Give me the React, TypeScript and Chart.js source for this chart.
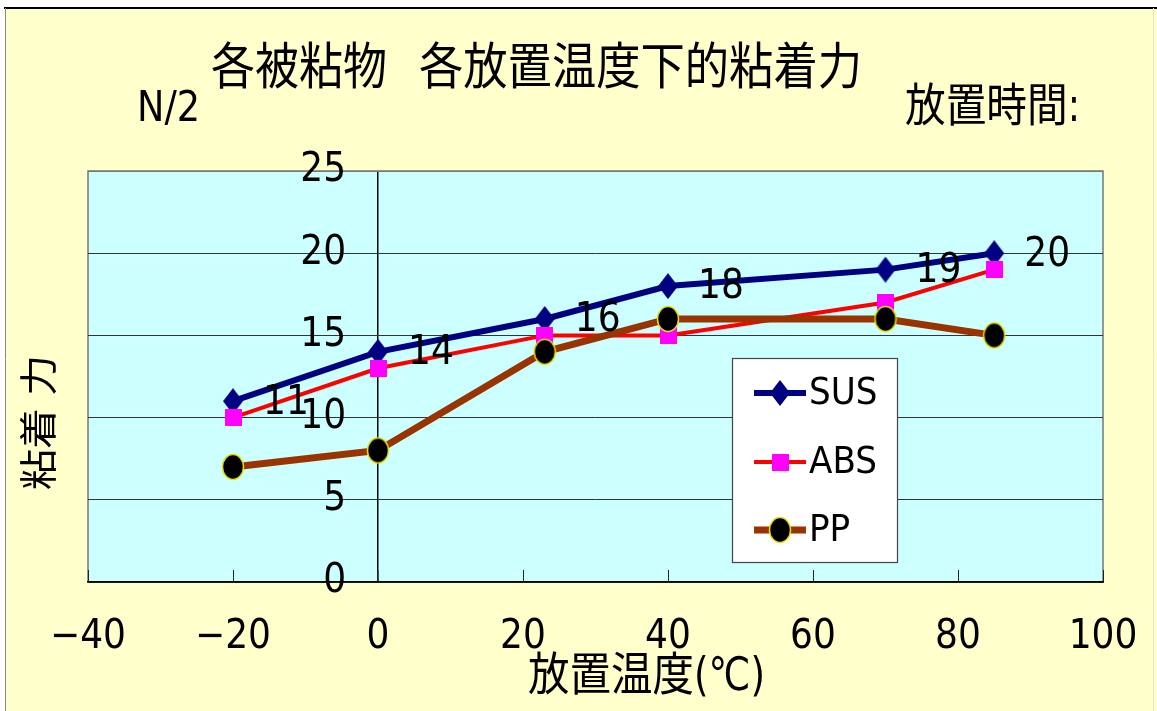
import { useEffect, useRef } from "react";
import { Chart, registerables } from "chart.js";

Chart.register(...registerables);

// ---- data ----
const TEMPS = [-20, 0, 23, 40, 70, 85];
const SUS = [11, 14, 16, 18, 19, 20];
const ABS = [10, 13, 15, 15, 17, 19];
const PP = [7, 8, 14, 16, 16, 15];
const SERIES_NAMES = ["SUS", "ABS", "PP"];
const X_TICKS = [-40, -20, 0, 20, 40, 60, 80, 100];
const Y_TICKS = [0, 5, 10, 15, 20, 25];
const TITLE_PARTS = ["各被粘物", "各放置温度下的粘着力"];
const UNIT_LABEL = "N/2";
const TIME_LABEL = "放置時間:";
const Y_TITLE = "粘着 力";
const X_TITLE = "放置温度(℃)";

const FONT =
  '"Liberation Sans Narrow", "DejaVu Sans Condensed", "Noto Sans CJK JP", sans-serif';

function makeMarker(w: number, h: number, draw: (c: CanvasRenderingContext2D, w: number, h: number) => void) {
  const c = document.createElement("canvas");
  c.width = w;
  c.height = h;
  const ctx = c.getContext("2d")!;
  draw(ctx, w, h);
  return c;
}

function drawFit(
  ctx: CanvasRenderingContext2D,
  text: string,
  x: number,
  y: number,
  size: number,
  width: number
) {
  ctx.save();
  ctx.font = `${size}px ${FONT}`;
  const w = ctx.measureText(text).width;
  ctx.translate(x, y);
  ctx.scale(width / w, 1);
  ctx.textAlign = "left";
  ctx.textBaseline = "middle";
  ctx.fillStyle = "#000";
  ctx.fillText(text, 0, 0);
  ctx.restore();
}

export default function App() {
  const ref = useRef<HTMLCanvasElement>(null);

  useEffect(() => {
    const diamond = makeMarker(20, 26, (c, w, h) => {
      c.fillStyle = "#000080";
      c.beginPath();
      c.moveTo(w / 2, 0);
      c.lineTo(w, h / 2);
      c.lineTo(w / 2, h);
      c.lineTo(0, h / 2);
      c.closePath();
      c.fill();
    });
    const square = makeMarker(17, 17, (c, w, h) => {
      c.fillStyle = "#FF00FF";
      c.fillRect(0, 0, w, h);
    });
    const ellipse = makeMarker(24, 28, (c, w, h) => {
      c.beginPath();
      c.ellipse(w / 2, h / 2, w / 2 - 1.5, h / 2 - 1.5, 0, 0, Math.PI * 2);
      c.fillStyle = "#000";
      c.fill();
      c.lineWidth = 1.5;
      c.strokeStyle = "#E8E000";
      c.stroke();
    });
    const markers = [diamond, square, ellipse];

    const background = {
      id: "background",
      beforeDraw(chart: any) {
        const { ctx, chartArea: a, width, height } = chart;
        ctx.save();
        ctx.fillStyle = "#FFFFFF";
        ctx.fillRect(0, 0, width, height);
        ctx.fillStyle = "#FFFFCC";
        ctx.fillRect(5, 8, width - 5, height - 8);
        ctx.strokeStyle = "#000";
        ctx.lineWidth = 2;
        ctx.beginPath();
        ctx.moveTo(4, 8);
        ctx.lineTo(width, 8);
        ctx.stroke();
        ctx.strokeStyle = "#888";
        ctx.lineWidth = 1;
        ctx.beginPath();
        ctx.moveTo(5.5, 8);
        ctx.lineTo(5.5, height);
        ctx.stroke();
        ctx.strokeStyle = "#E6E6C8";
        ctx.beginPath();
        ctx.moveTo(1153.5, 8);
        ctx.lineTo(1153.5, height);
        ctx.stroke();
        ctx.fillStyle = "#CCFFFF";
        ctx.fillRect(a.left, a.top, a.right - a.left, a.bottom - a.top);
        ctx.strokeStyle = "#777";
        ctx.lineWidth = 1.5;
        ctx.strokeRect(a.left, a.top, a.right - a.left, a.bottom - a.top);
        ctx.restore();
      },
    };

    const valueLabels = {
      id: "valueLabels",
      afterDatasetsDraw(chart: any) {
        const { ctx } = chart;
        const meta = chart.getDatasetMeta(0);
        ctx.save();
        ctx.font = `40px ${FONT}`;
        ctx.fillStyle = "#000";
        ctx.textAlign = "left";
        ctx.textBaseline = "middle";
        meta.data.forEach((el: any, i: number) => {
          ctx.fillText(String(SUS[i]), el.x + 30, el.y + 2);
        });
        ctx.restore();
      },
    };

    const legendBox = {
      id: "legendBox",
      afterDraw(chart: any) {
        const { ctx } = chart;
        ctx.save();
        ctx.fillStyle = "#FFFFFF";
        ctx.fillRect(732, 358, 165, 204);
        ctx.strokeStyle = "#444";
        ctx.lineWidth = 1.2;
        ctx.strokeRect(732.5, 358.5, 165, 204);
        const rows = [393, 462, 530];
        chart.data.datasets.forEach((ds: any, i: number) => {
          const y = rows[i];
          ctx.strokeStyle = ds.borderColor;
          ctx.lineWidth = ds.borderWidth;
          ctx.beginPath();
          ctx.moveTo(754, y);
          ctx.lineTo(806, y);
          ctx.stroke();
          const m = markers[i];
          ctx.drawImage(m, 780 - m.width / 2, y - m.height / 2);
          ctx.font = `38px ${FONT}`;
          ctx.fillStyle = "#000";
          ctx.textAlign = "left";
          ctx.textBaseline = "middle";
          ctx.fillText(ds.label, 809, y + 1);
        });
        ctx.restore();
      },
    };

    const texts = {
      id: "texts",
      afterDraw(chart: any) {
        const { ctx } = chart;
        drawFit(ctx, TITLE_PARTS[0], 211, 71, 50, 176);
        drawFit(ctx, TITLE_PARTS[1], 419, 71, 50, 443);
        drawFit(ctx, UNIT_LABEL, 137, 110, 42, 63);
        drawFit(ctx, TIME_LABEL, 905, 109, 46, 175);
        drawFit(ctx, X_TITLE, 528, 678, 46, 237);
        ctx.save();
        ctx.translate(42, 490);
        ctx.rotate(-Math.PI / 2);
        drawFit(ctx, Y_TITLE, 0, 0, 38, 135);
        ctx.restore();
      },
    };

    const colors = ["#000080", "#FF0000", "#993300"];
    const widths = [6, 4, 7];
    const values = [SUS, ABS, PP];
    const orders = [2, 1, 0];

    const chart = new Chart(ref.current!, {
      type: "line",
      data: {
        datasets: SERIES_NAMES.map((name, i) => ({
          label: name,
          data: TEMPS.map((t, j) => ({ x: t, y: values[i][j] })),
          borderColor: colors[i],
          backgroundColor: colors[i],
          borderWidth: widths[i],
          pointStyle: markers[i] as any,
          pointRadius: 10,
          pointHoverRadius: 10,
          tension: 0,
          fill: false,
          order: orders[i],
          clip: false as any,
        })),
      },
      options: {
        animation: false,
        responsive: true,
        maintainAspectRatio: false,
        events: [],
        layout: { padding: { left: 88, top: 171, right: 54, bottom: 29 } },
        plugins: {
          legend: { display: false },
          title: { display: false },
          tooltip: { enabled: false },
        },
        scales: {
          x: {
            type: "linear",
            min: -40,
            max: 100,
            position: "bottom",
            afterBuildTicks: (s: any) => {
              s.ticks = X_TICKS.map((v) => ({ value: v }));
            },
            afterFit: (s: any) => {
              s.height = 100;
              s.paddingLeft = 0;
              s.paddingRight = 0;
            },
            grid: {
              drawOnChartArea: true,
              drawTicks: true,
              tickLength: -12,
              color: (c: any) => (c.tick && c.tick.value === 0 ? "#000" : "rgba(0,0,0,0)"),
              tickColor: "#222",
              lineWidth: (c: any) => (c.tick && c.tick.value === 0 ? 1.5 : 1),
            },
            border: { display: true, color: "#000", width: 1.5 },
            ticks: {
              font: { family: FONT, size: 40 },
              color: "#000",
              padding: 44,
              maxRotation: 0,
              autoSkip: false,
              callback: (v: any) => (Number(v) < 0 ? "−" + Math.abs(Number(v)) : String(v)),
            },
          },
          y: {
            type: "linear",
            min: 0,
            max: 25,
            // tick labels sit a little left of the 0 °C line
            position: { x: -4.4 } as any,
            afterBuildTicks: (s: any) => {
              s.ticks = Y_TICKS.map((v) => ({ value: v }));
            },
            grid: {
              drawTicks: false,
              lineWidth: 1,
              color: (c: any) => (c.tick && c.tick.value === 25 ? "#777" : "#333"),
            },
            border: { display: false },
            ticks: {
              font: { family: FONT, size: 40 },
              color: "#000",
              padding: 0,
            },
          },
        },
      },
      plugins: [background, valueLabels, legendBox, texts],
    } as any);

    return () => chart.destroy();
  }, []);

  return (
    <div style={{ position: "absolute", left: 0, top: 0, width: 1157, height: 711 }}>
      <canvas ref={ref} />
    </div>
  );
}
